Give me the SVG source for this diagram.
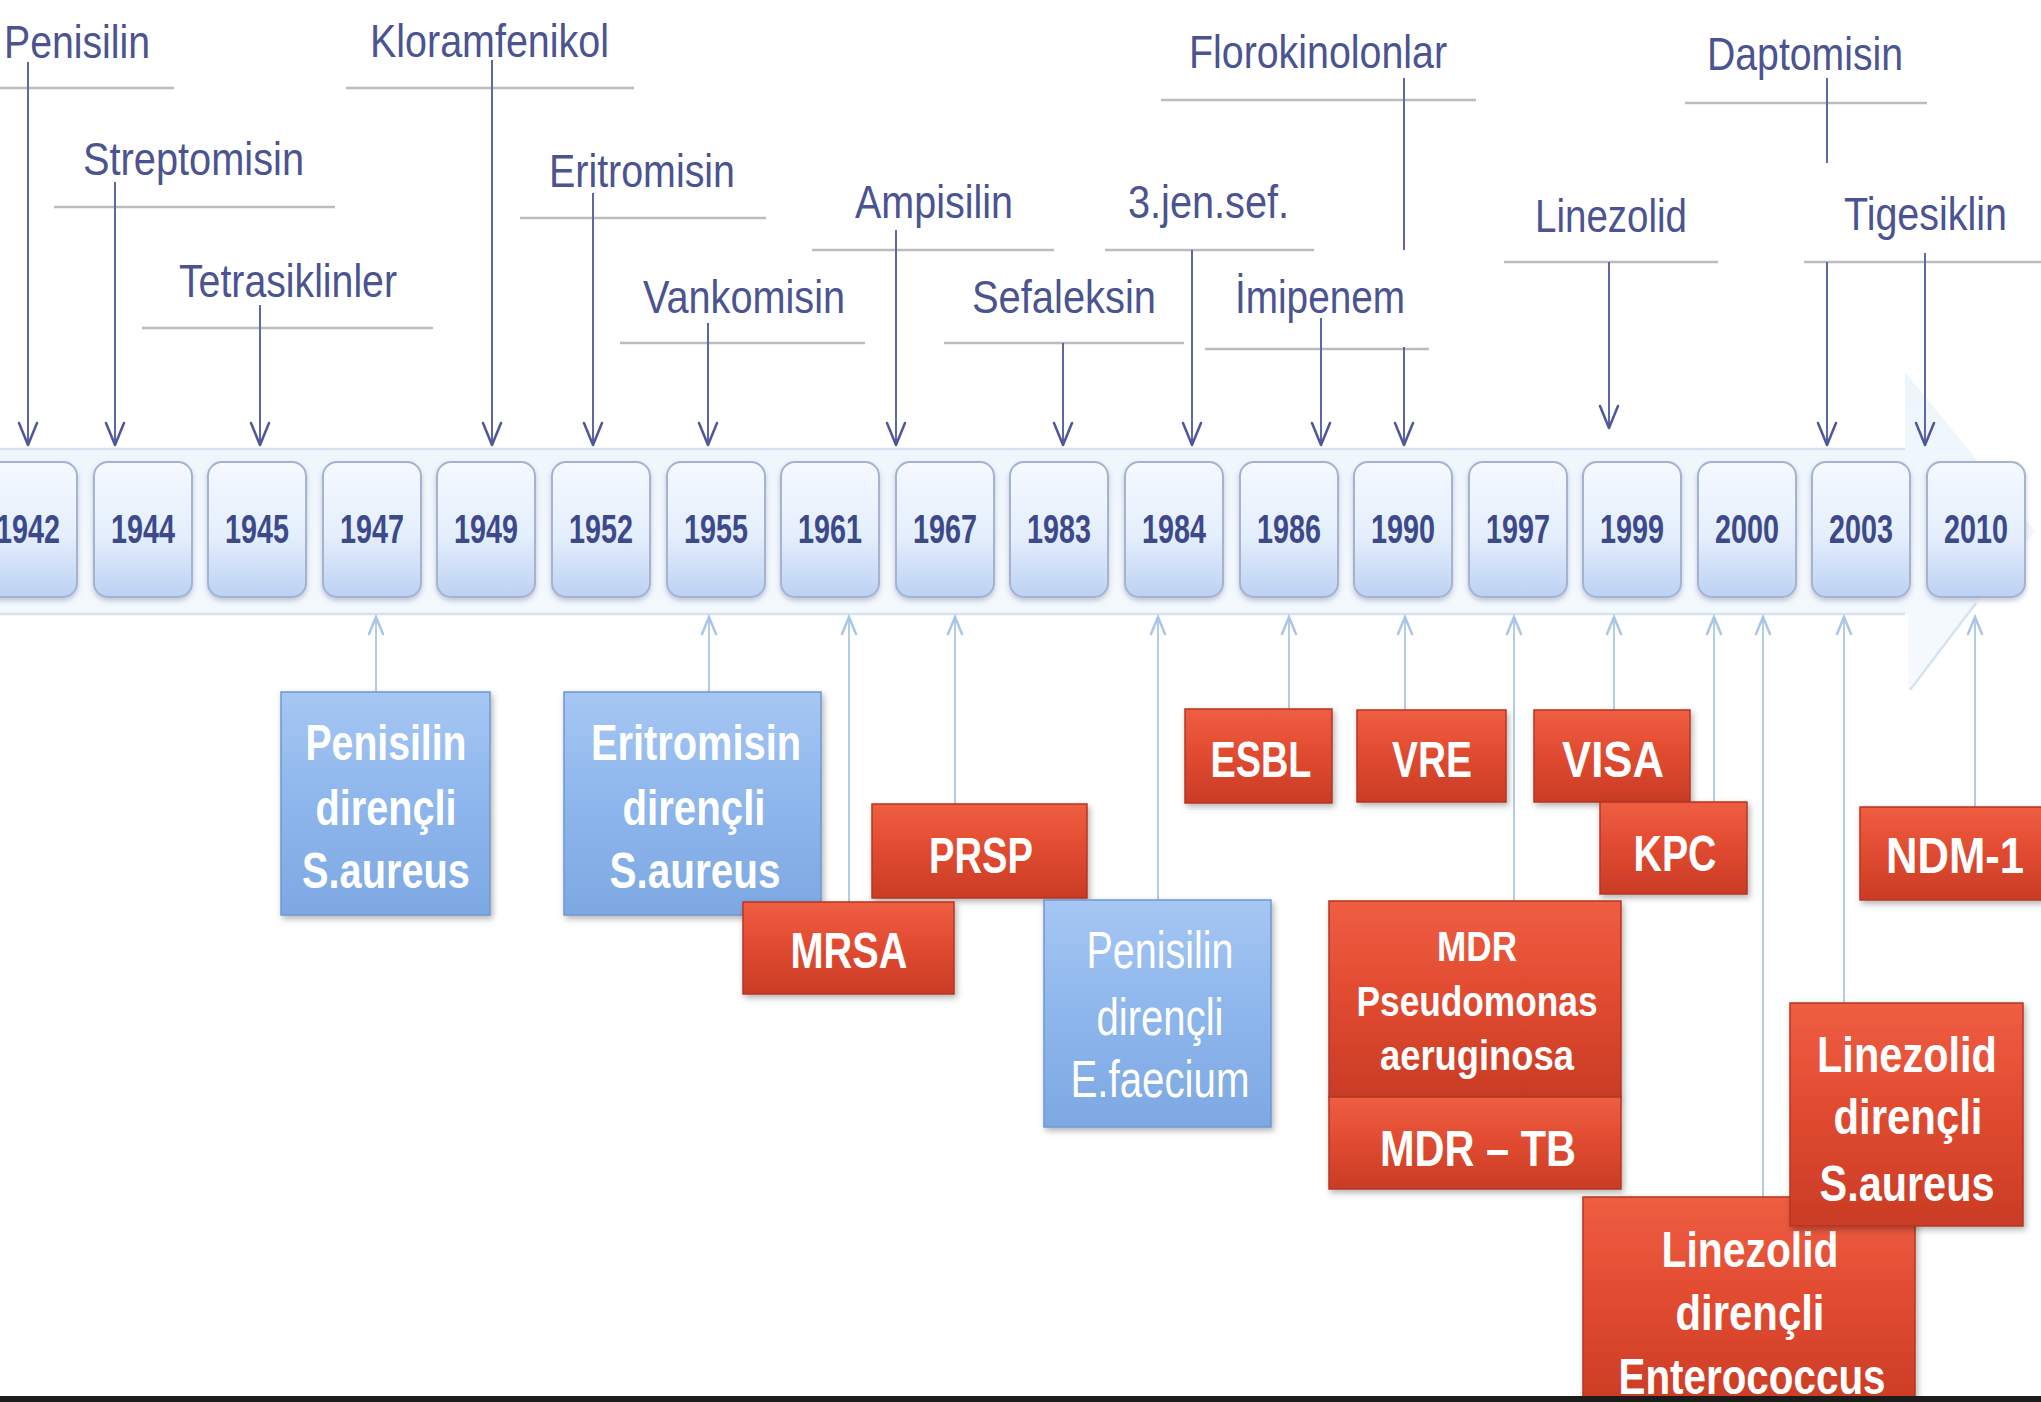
<svg xmlns="http://www.w3.org/2000/svg" width="2041" height="1402" viewBox="0 0 2041 1402">
<defs>
<style>
.lbl{font-family:"Liberation Sans",Arial,sans-serif;font-size:46px;fill:#4b5391}
.ul{stroke:#bcbcbc;stroke-width:2.5;fill:none}
.arr{stroke:#5f66a6;stroke-width:2;fill:none}
.head{stroke:#4f5699;stroke-width:2.5;fill:none;stroke-linecap:round;stroke-linejoin:round}
.up{stroke:#b3cde8;stroke-width:2;fill:none}
.uphead{stroke:#aac6e4;stroke-width:2.5;fill:none;stroke-linecap:round}
.yr{fill:url(#yg);stroke:#a7b2cf;stroke-width:2}
.ytx{font-family:"Liberation Sans",Arial,sans-serif;font-weight:bold;font-size:40px;fill:#3d4a8a;text-anchor:middle}
.red{fill:url(#rg);stroke:#b8351f;stroke-width:1.5}
.blue{fill:url(#bg);stroke:#6f97cf;stroke-width:1.5}
.btx{font-family:"Liberation Sans",Arial,sans-serif;font-weight:bold;font-size:50px;fill:#ffffff;text-anchor:middle}
.btn{font-family:"Liberation Sans",Arial,sans-serif;font-size:52px;fill:#ffffff;text-anchor:middle}
.stx{font-family:"Liberation Sans",Arial,sans-serif;font-weight:bold;font-size:42px;fill:#ffffff;text-anchor:middle}
</style>
<linearGradient id="yg" x1="0" y1="0" x2="0" y2="1">
<stop offset="0" stop-color="#f6faff"/>
<stop offset="0.55" stop-color="#e4eefc"/>
<stop offset="1" stop-color="#bcd1f3"/>
</linearGradient>
<linearGradient id="band" x1="0" y1="0" x2="0" y2="1">
<stop offset="0" stop-color="#e9f3fb"/>
<stop offset="1" stop-color="#f3f8fd"/>
</linearGradient>
<linearGradient id="rg" x1="0" y1="0" x2="0" y2="1">
<stop offset="0" stop-color="#ef5e42"/>
<stop offset="0.5" stop-color="#e04a30"/>
<stop offset="1" stop-color="#c93c25"/>
</linearGradient>
<linearGradient id="bg" x1="0" y1="0" x2="0" y2="1">
<stop offset="0" stop-color="#a6c7f3"/>
<stop offset="0.5" stop-color="#8db6ec"/>
<stop offset="1" stop-color="#7ea8e2"/>
</linearGradient>
<filter id="sh" x="-10%" y="-10%" width="125%" height="130%">
<feDropShadow dx="2" dy="3" stdDeviation="3" flood-color="#000" flood-opacity="0.3"/>
</filter>
<filter id="ysh" x="-10%" y="-10%" width="125%" height="130%">
<feDropShadow dx="0" dy="3" stdDeviation="2.5" flood-color="#5a6a9a" flood-opacity="0.35"/>
</filter>
</defs>
<rect x="0" y="0" width="2041" height="1402" fill="#ffffff"/>

<!-- timeline band (big arrow) -->
<g id="timeline-band">
<path d="M -10 449 H 1905 V 372 L 2035 531 L 1908 690 V 614 H -10 Z" fill="url(#band)" opacity="0.8"/>
<path d="M -10 449 H 1905 M -10 614 H 1905 M 1910 690 L 1976 603" fill="none" stroke="#d6e3ef" stroke-width="2.5"/>
</g>

<!-- top labels -->
<g id="label-penisilin"><text class="lbl" x="4" y="58" textLength="146" lengthAdjust="spacingAndGlyphs">Penisilin</text><line class="ul" x1="0" y1="88" x2="174" y2="88"/></g>
<g id="label-streptomisin"><text class="lbl" x="83" y="175" textLength="221" lengthAdjust="spacingAndGlyphs">Streptomisin</text><line class="ul" x1="54" y1="207" x2="335" y2="207"/></g>
<g id="label-tetrasiklinler"><text class="lbl" x="179" y="297" textLength="218" lengthAdjust="spacingAndGlyphs">Tetrasiklinler</text><line class="ul" x1="142" y1="328" x2="433" y2="328"/></g>
<g id="label-kloramfenikol"><text class="lbl" x="370" y="57" textLength="239" lengthAdjust="spacingAndGlyphs">Kloramfenikol</text><line class="ul" x1="346" y1="88" x2="634" y2="88"/></g>
<g id="label-eritromisin"><text class="lbl" x="549" y="187" textLength="186" lengthAdjust="spacingAndGlyphs">Eritromisin</text><line class="ul" x1="520" y1="218" x2="766" y2="218"/></g>
<g id="label-vankomisin"><text class="lbl" x="643" y="313" textLength="202" lengthAdjust="spacingAndGlyphs">Vankomisin</text><line class="ul" x1="620" y1="343" x2="865" y2="343"/></g>
<g id="label-ampisilin"><text class="lbl" x="855" y="218" textLength="158" lengthAdjust="spacingAndGlyphs">Ampisilin</text><line class="ul" x1="812" y1="250" x2="1054" y2="250"/></g>
<g id="label-3jensef"><text class="lbl" x="1128" y="218" textLength="161" lengthAdjust="spacingAndGlyphs">3.jen.sef.</text><line class="ul" x1="1105" y1="250" x2="1314" y2="250"/></g>
<g id="label-sefaleksin"><text class="lbl" x="972" y="313" textLength="184" lengthAdjust="spacingAndGlyphs">Sefaleksin</text><line class="ul" x1="944" y1="343" x2="1184" y2="343"/></g>
<g id="label-imipenem"><text class="lbl" x="1235" y="313" textLength="170" lengthAdjust="spacingAndGlyphs">İmipenem</text><line class="ul" x1="1205" y1="349" x2="1429" y2="349"/></g>
<g id="label-florokinolonlar"><text class="lbl" x="1189" y="68" textLength="258" lengthAdjust="spacingAndGlyphs">Florokinolonlar</text><line class="ul" x1="1161" y1="100" x2="1476" y2="100"/></g>
<g id="label-linezolid"><text class="lbl" x="1535" y="232" textLength="152" lengthAdjust="spacingAndGlyphs">Linezolid</text><line class="ul" x1="1504" y1="262" x2="1718" y2="262"/></g>
<g id="label-daptomisin"><text class="lbl" x="1707" y="70" textLength="196" lengthAdjust="spacingAndGlyphs">Daptomisin</text><line class="ul" x1="1685" y1="103" x2="1927" y2="103"/></g>
<g id="label-tigesiklin"><text class="lbl" x="1844" y="230" textLength="163" lengthAdjust="spacingAndGlyphs">Tigesiklin</text><line class="ul" x1="1804" y1="262" x2="2041" y2="262"/></g>

<!-- connectors -->
<g id="connectors">
<path class="arr" d="M28 62 V444 M115 182 V444 M260 305 V444 M492 60 V444 M593 193 V444 M708 323 V444 M896 230 V444 M1063 343 V444 M1192 250 V444 M1321 318 V444 M1404 78 V250 M1404 347 V444 M1609 262 V427 M1827 78 V163 M1827 262 V444 M1925 253 V444"/>
<path class="head" d="M19 423 L28 445 L37 423 M106 423 L115 445 L124 423 M251 423 L260 445 L269 423 M483 423 L492 445 L501 423 M584 423 L593 445 L602 423 M699 423 L708 445 L717 423 M887 423 L896 445 L905 423 M1054 423 L1063 445 L1072 423 M1183 423 L1192 445 L1201 423 M1312 423 L1321 445 L1330 423 M1395 423 L1404 445 L1413 423 M1600 406 L1609 428 L1618 406 M1818 423 L1827 445 L1836 423 M1916 423 L1925 445 L1934 423"/>
<path class="up" d="M376 692 V618 M709 692 V618 M849 902 V618 M955 804 V618 M1158 900 V618 M1289 709 V618 M1405 710 V618 M1514 900 V618 M1614 710 V618 M1714 802 V618 M1763 1197 V618 M1844 1003 V618 M1975 807 V618"/>
<path class="uphead" d="M369 634 L376 617 L383 634 M702 634 L709 617 L716 634 M842 634 L849 617 L856 634 M948 634 L955 617 L962 634 M1151 634 L1158 617 L1165 634 M1282 634 L1289 617 L1296 634 M1398 634 L1405 617 L1412 634 M1507 634 L1514 617 L1521 634 M1607 634 L1614 617 L1621 634 M1707 634 L1714 617 L1721 634 M1756 634 L1763 617 L1770 634 M1837 634 L1844 617 L1851 634 M1968 634 L1975 617 L1982 634"/>
</g>

<!-- year boxes -->
<g id="y1942"><rect class="yr" filter="url(#ysh)" x="-21" y="462" width="98" height="135" rx="14"/><text class="ytx" x="28" y="543" textLength="64" lengthAdjust="spacingAndGlyphs">1942</text></g>
<g id="y1944"><rect class="yr" filter="url(#ysh)" x="94" y="462" width="98" height="135" rx="14"/><text class="ytx" x="143" y="543" textLength="64" lengthAdjust="spacingAndGlyphs">1944</text></g>
<g id="y1945"><rect class="yr" filter="url(#ysh)" x="208" y="462" width="98" height="135" rx="14"/><text class="ytx" x="257" y="543" textLength="64" lengthAdjust="spacingAndGlyphs">1945</text></g>
<g id="y1947"><rect class="yr" filter="url(#ysh)" x="323" y="462" width="98" height="135" rx="14"/><text class="ytx" x="372" y="543" textLength="64" lengthAdjust="spacingAndGlyphs">1947</text></g>
<g id="y1949"><rect class="yr" filter="url(#ysh)" x="437" y="462" width="98" height="135" rx="14"/><text class="ytx" x="486" y="543" textLength="64" lengthAdjust="spacingAndGlyphs">1949</text></g>
<g id="y1952"><rect class="yr" filter="url(#ysh)" x="552" y="462" width="98" height="135" rx="14"/><text class="ytx" x="601" y="543" textLength="64" lengthAdjust="spacingAndGlyphs">1952</text></g>
<g id="y1955"><rect class="yr" filter="url(#ysh)" x="667" y="462" width="98" height="135" rx="14"/><text class="ytx" x="716" y="543" textLength="64" lengthAdjust="spacingAndGlyphs">1955</text></g>
<g id="y1961"><rect class="yr" filter="url(#ysh)" x="781" y="462" width="98" height="135" rx="14"/><text class="ytx" x="830" y="543" textLength="64" lengthAdjust="spacingAndGlyphs">1961</text></g>
<g id="y1967"><rect class="yr" filter="url(#ysh)" x="896" y="462" width="98" height="135" rx="14"/><text class="ytx" x="945" y="543" textLength="64" lengthAdjust="spacingAndGlyphs">1967</text></g>
<g id="y1983"><rect class="yr" filter="url(#ysh)" x="1010" y="462" width="98" height="135" rx="14"/><text class="ytx" x="1059" y="543" textLength="64" lengthAdjust="spacingAndGlyphs">1983</text></g>
<g id="y1984"><rect class="yr" filter="url(#ysh)" x="1125" y="462" width="98" height="135" rx="14"/><text class="ytx" x="1174" y="543" textLength="64" lengthAdjust="spacingAndGlyphs">1984</text></g>
<g id="y1986"><rect class="yr" filter="url(#ysh)" x="1240" y="462" width="98" height="135" rx="14"/><text class="ytx" x="1289" y="543" textLength="64" lengthAdjust="spacingAndGlyphs">1986</text></g>
<g id="y1990"><rect class="yr" filter="url(#ysh)" x="1354" y="462" width="98" height="135" rx="14"/><text class="ytx" x="1403" y="543" textLength="64" lengthAdjust="spacingAndGlyphs">1990</text></g>
<g id="y1997"><rect class="yr" filter="url(#ysh)" x="1469" y="462" width="98" height="135" rx="14"/><text class="ytx" x="1518" y="543" textLength="64" lengthAdjust="spacingAndGlyphs">1997</text></g>
<g id="y1999"><rect class="yr" filter="url(#ysh)" x="1583" y="462" width="98" height="135" rx="14"/><text class="ytx" x="1632" y="543" textLength="64" lengthAdjust="spacingAndGlyphs">1999</text></g>
<g id="y2000"><rect class="yr" filter="url(#ysh)" x="1698" y="462" width="98" height="135" rx="14"/><text class="ytx" x="1747" y="543" textLength="64" lengthAdjust="spacingAndGlyphs">2000</text></g>
<g id="y2003"><rect class="yr" filter="url(#ysh)" x="1812" y="462" width="98" height="135" rx="14"/><text class="ytx" x="1861" y="543" textLength="64" lengthAdjust="spacingAndGlyphs">2003</text></g>
<g id="y2010"><rect class="yr" filter="url(#ysh)" x="1927" y="462" width="98" height="135" rx="14"/><text class="ytx" x="1976" y="543" textLength="64" lengthAdjust="spacingAndGlyphs">2010</text></g>

<!-- resistance boxes -->
<g id="pen-sa"><rect class="blue" filter="url(#sh)" x="281" y="692" width="209" height="223"/>
<text class="btx" x="386" y="760" textLength="161" lengthAdjust="spacingAndGlyphs">Penisilin</text>
<text class="btx" x="386" y="825" textLength="141" lengthAdjust="spacingAndGlyphs">dirençli</text>
<text class="btx" x="386" y="888" textLength="168" lengthAdjust="spacingAndGlyphs">S.aureus</text></g>

<g id="eri-sa"><rect class="blue" filter="url(#sh)" x="564" y="692" width="257" height="223"/>
<text class="btx" x="696" y="760" textLength="210" lengthAdjust="spacingAndGlyphs">Eritromisin</text>
<text class="btx" x="694" y="825" textLength="143" lengthAdjust="spacingAndGlyphs">dirençli</text>
<text class="btx" x="695" y="888" textLength="171" lengthAdjust="spacingAndGlyphs">S.aureus</text></g>

<g id="prsp"><rect class="red" filter="url(#sh)" x="872" y="804" width="215" height="94"/>
<text class="btx" x="981" y="873" textLength="104" lengthAdjust="spacingAndGlyphs">PRSP</text></g>

<g id="mrsa"><rect class="red" filter="url(#sh)" x="743" y="902" width="211" height="92"/>
<text class="btx" x="849" y="968" textLength="117" lengthAdjust="spacingAndGlyphs">MRSA</text></g>

<g id="pen-ef"><rect class="blue" filter="url(#sh)" x="1044" y="900" width="227" height="227"/>
<text class="btn" x="1160" y="968" textLength="147" lengthAdjust="spacingAndGlyphs">Penisilin</text>
<text class="btn" x="1160" y="1035" textLength="127" lengthAdjust="spacingAndGlyphs">dirençli</text>
<text class="btn" x="1160" y="1097" textLength="179" lengthAdjust="spacingAndGlyphs">E.faecium</text></g>

<g id="esbl"><rect class="red" filter="url(#sh)" x="1185" y="709" width="147" height="94"/>
<text class="btx" x="1261" y="777" textLength="101" lengthAdjust="spacingAndGlyphs">ESBL</text></g>

<g id="vre"><rect class="red" filter="url(#sh)" x="1357" y="710" width="149" height="92"/>
<text class="btx" x="1432" y="777" textLength="80" lengthAdjust="spacingAndGlyphs">VRE</text></g>

<g id="visa"><rect class="red" filter="url(#sh)" x="1534" y="710" width="156" height="92"/>
<text class="btx" x="1613" y="777" textLength="102" lengthAdjust="spacingAndGlyphs">VISA</text></g>

<g id="kpc"><rect class="red" filter="url(#sh)" x="1600" y="802" width="147" height="92"/>
<text class="btx" x="1675" y="871" textLength="83" lengthAdjust="spacingAndGlyphs">KPC</text></g>

<g id="ndm1"><rect class="red" filter="url(#sh)" x="1860" y="807" width="200" height="93"/>
<text class="btx" x="1955" y="873" textLength="138" lengthAdjust="spacingAndGlyphs">NDM-1</text></g>

<g id="mdr-pa"><rect class="red" filter="url(#sh)" x="1329" y="901" width="292" height="196"/>
<text class="stx" x="1477" y="961" textLength="80" lengthAdjust="spacingAndGlyphs">MDR</text>
<text class="stx" x="1477" y="1016" textLength="241" lengthAdjust="spacingAndGlyphs">Pseudomonas</text>
<text class="stx" x="1477" y="1070" textLength="194" lengthAdjust="spacingAndGlyphs">aeruginosa</text></g>

<g id="mdr-tb"><rect class="red" filter="url(#sh)" x="1329" y="1097" width="292" height="92"/>
<text class="btx" x="1478" y="1166" textLength="196" lengthAdjust="spacingAndGlyphs">MDR – TB</text></g>

<g id="lzd-ent"><rect class="red" filter="url(#sh)" x="1583" y="1197" width="332" height="215"/>
<text class="btx" x="1750" y="1267" textLength="177" lengthAdjust="spacingAndGlyphs">Linezolid</text>
<text class="btx" x="1750" y="1330" textLength="149" lengthAdjust="spacingAndGlyphs">dirençli</text>
<text class="btx" x="1752" y="1394" textLength="267" lengthAdjust="spacingAndGlyphs">Enterococcus</text></g>

<g id="lzd-sa"><rect class="red" filter="url(#sh)" x="1790" y="1003" width="233" height="223"/>
<text class="btx" x="1907" y="1072" textLength="180" lengthAdjust="spacingAndGlyphs">Linezolid</text>
<text class="btx" x="1908" y="1134" textLength="149" lengthAdjust="spacingAndGlyphs">dirençli</text>
<text class="btx" x="1907" y="1201" textLength="175" lengthAdjust="spacingAndGlyphs">S.aureus</text></g>

<rect x="0" y="1396" width="2041" height="6" fill="#1c1c1c"/>
</svg>
